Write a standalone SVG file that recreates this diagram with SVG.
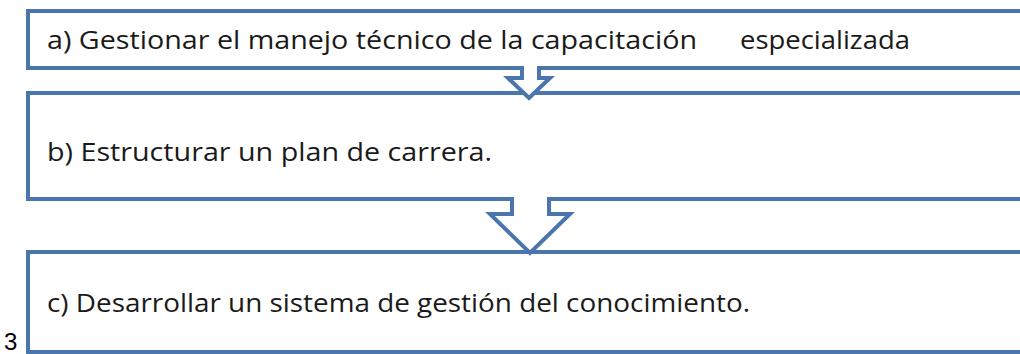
<svg xmlns="http://www.w3.org/2000/svg" width="1020" height="354" viewBox="0 0 1020 354">
<style>
.box{fill:#ffffff;stroke:#4a75ad;stroke-width:4;stroke-linejoin:miter}
.t{font-family:"Open Sans","DejaVu Sans",sans-serif;font-size:25px;fill:#1a1a1a}
</style>
<rect x="0" y="0" width="1020" height="354" fill="#ffffff"/>
<g id="node-c">
<path class="box" d="M1030,252 H28 V352 H1030"/>
<text class="t" x="47" y="312" textLength="703" lengthAdjust="spacingAndGlyphs">c) Desarrollar un sistema de gestión del conocimiento.</text>
</g>
<g id="node-b">
<path class="box" d="M1030,93 H28 V199 H512 V214 H490 L530,253 L570,214 H549 V199 H1030"/>
<text class="t" x="47" y="161" textLength="445" lengthAdjust="spacingAndGlyphs">b) Estructurar un plan de carrera.</text>
</g>
<g id="node-a">
<path class="box" d="M1030,11 H28 V68 H522 V78 H508 L529,98 L550,78 H539 V68 H1030"/>
<text class="t" x="47" y="49" textLength="650" lengthAdjust="spacingAndGlyphs">a)  Gestionar el manejo técnico de la capacitación</text>
<text class="t" x="740" y="49" textLength="170" lengthAdjust="spacingAndGlyphs">especializada</text>
</g>
<g id="connectors"></g>
<text x="4" y="350" font-family="Liberation Sans, Arial, sans-serif" font-size="24" fill="#000000">3</text>
</svg>
